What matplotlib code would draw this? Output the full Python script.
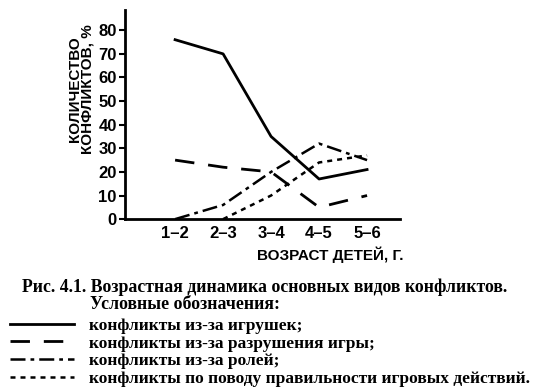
import numpy as np
import matplotlib
matplotlib.use('Agg')
from matplotlib import pyplot as plt

# возрастные группы
vozrast = ['1–2', '2–3', '3–4', '4–5', '5–6']
# количество конфликтов, %
igrushki = [76, 70, 35, 17, 21]
razrushenie = [25, 22, 20, 5, 10]
roli = [0, 6, 20, 32, 25]
pravilnost = [np.nan, 0, 10, 24, 27]

legenda = ['конфликты из-за игрушек;',
           'конфликты из-за разрушения игры;',
           'конфликты из-за ролей;',
           'конфликты по поводу правильности игровых действий.']

fig = plt.figure(figsize=(5.35, 3.92), dpi=100)
ax = fig.add_axes([0.234, 0.441, 0.514, 0.533])
x = np.arange(len(vozrast))

l1, = ax.plot(x, igrushki, color='black', lw=2)
l2, = ax.plot(x, razrushenie, color='black', lw=2, dashes=(7, 5))
l3, = ax.plot(x, roli, color='black', lw=1.8, dashes=(6, 2, 1.5, 2))
l4, = ax.plot(x, pravilnost, color='black', lw=1.8, dashes=(2, 2))

ax.set_xlim(-1.04, 4.69)
ax.set_ylim(0, 88.5)
ax.set_xticks(x)
ax.set_xticklabels(vozrast)
ax.set_yticks(np.arange(0, 81, 10))
for s in ['top', 'right']:
    ax.spines[s].set_visible(False)
ax.spines['left'].set_linewidth(2)
ax.spines['bottom'].set_linewidth(2)
ax.tick_params(axis='x', length=0, pad=5)
ax.tick_params(axis='y', length=4, width=1.5, pad=2)
for t in ax.get_xticklabels() + ax.get_yticklabels():
    t.set_fontweight('bold')
    t.set_fontsize(12)
    t.set_family('Liberation Sans')
ax.set_ylabel('КОЛИЧЕСТВО\nКОНФЛИКТОВ, %', fontsize=11, fontweight='bold',
              family='Liberation Sans', linespacing=0.9)
ax.yaxis.set_label_coords(-0.11, 0.62)
ax.set_xlabel('ВОЗРАСТ ДЕТЕЙ, Г.', fontsize=11, fontweight='bold',
              family='Liberation Sans')
ax.xaxis.set_label_coords(0.745, -0.13)

fig.text(0.041, 0.268, 'Рис. 4.1. Возрастная динамика основных видов конфликтов.',
         fontsize=12.8, fontweight='bold', family='Liberation Serif', va='center')
fig.text(0.168, 0.224, 'Условные обозначения:', fontsize=12.8, fontweight='bold',
         family='Liberation Serif', va='center')

fig.legend([l1, l2, l3, l4], legenda, loc='lower left',
           bbox_to_anchor=(-0.011, -0.028), frameon=False, handlelength=3.7,
           handletextpad=0.86, labelspacing=0.1,
           prop={'family': 'Liberation Serif', 'weight': 'bold', 'size': 12.5})

fig.savefig('out.png', dpi=100)
